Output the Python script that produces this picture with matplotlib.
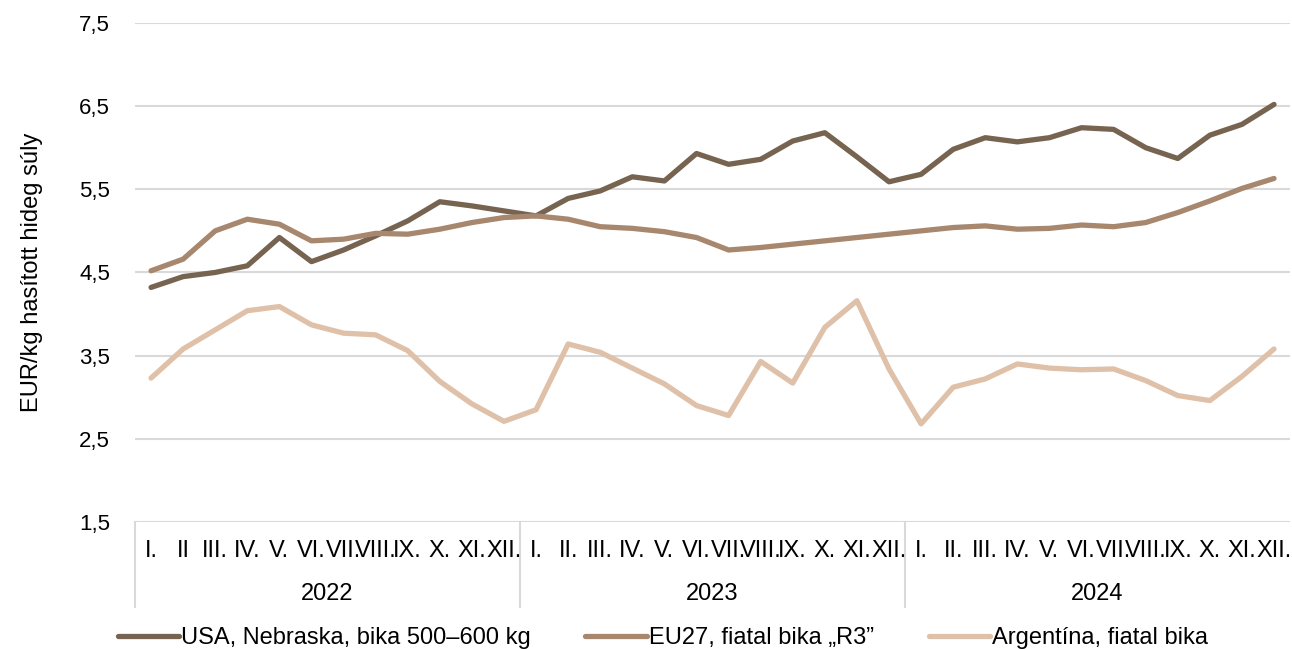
import numpy as np
import matplotlib.pyplot as plt
import matplotlib.transforms as mtransforms

plt.rcParams['font.family'] = ['Liberation Sans', 'DejaVu Sans']

# data
years = ["2022", "2023", "2024"]
months = ["I.", "II", "III.", "IV.", "V.", "VI.", "VII.", "VIII.", "IX.", "X.", "XI.", "XII."]
months_other = ["I.", "II.", "III.", "IV.", "V.", "VI.", "VII.", "VIII.", "IX.", "X.", "XI.", "XII."]

usa = [4.32, 4.45, 4.50, 4.58, 4.92, 4.63, 4.77, 4.94, 5.12, 5.35, 5.30, 5.24,
       5.18, 5.39, 5.48, 5.65, 5.60, 5.93, 5.80, 5.86, 6.08, 6.18, 5.89, 5.59,
       5.68, 5.98, 6.12, 6.07, 6.12, 6.24, 6.22, 6.00, 5.87, 6.15, 6.28, 6.52]
eu = [4.52, 4.66, 5.00, 5.14, 5.08, 4.88, 4.90, 4.97, 4.96, 5.02, 5.10, 5.16,
      5.18, 5.14, 5.05, 5.03, 4.99, 4.92, 4.77, 4.80, 4.84, 4.88, 4.92, 4.96,
      5.00, 5.04, 5.06, 5.02, 5.03, 5.07, 5.05, 5.10, 5.22, 5.36, 5.51, 5.63]
arg = [3.23, 3.58, 3.81, 4.04, 4.09, 3.87, 3.77, 3.75, 3.56, 3.19, 2.92, 2.71,
       2.85, 3.64, 3.54, 3.35, 3.16, 2.90, 2.78, 3.43, 3.17, 3.84, 4.16, 3.34,
       2.68, 3.12, 3.22, 3.40, 3.35, 3.33, 3.34, 3.20, 3.02, 2.96, 3.25, 3.58]

labels = ["USA, Nebraska, bika 500\u2013600 kg", "EU27, fiatal bika \u201eR3\u201d", "Argent\u00edna, fiatal bika"]
colors = ["#766350", "#a7876d", "#dfc0a8"]
y_ticks = [1.5, 2.5, 3.5, 4.5, 5.5, 6.5, 7.5]

fs = 17

fig = plt.figure(figsize=(12.92, 6.49), dpi=100)
ax = fig.add_axes([0.1045, 0.1957, 0.894, 0.769])

x = np.arange(len(usa))
for vals, lab, col in zip([usa, eu, arg], labels, colors):
    ax.plot(x, vals, color=col, linewidth=3.8, label=lab, solid_capstyle='round', solid_joinstyle='round')

ax.set_xlim(-0.5, len(usa) - 0.5)
ax.set_ylim(1.5, 7.5)
ax.set_yticks(y_ticks)
ax.set_yticklabels([("%.1f" % v).replace(".", ",") for v in y_ticks], fontsize=16)
ax.yaxis.grid(True, color="#d9d9d9", linewidth=1.5)
ax.set_axisbelow(True)
ax.tick_params(axis='y', length=0, pad=18)
ax.set_xticks([])
for s in ax.spines.values():
    s.set_visible(False)

ax.set_ylabel("EUR/kg hasított hideg súly", fontsize=fs, labelpad=26)

# category axis: months and years
trans = mtransforms.blended_transform_factory(ax.transData, ax.transAxes)
for yi, year in enumerate(years):
    mlist = months if yi == 0 else months_other
    for mi, m in enumerate(mlist):
        ax.text(yi * 12 + mi, -0.058, m, transform=trans, ha='center', va='center', fontsize=fs)
    ax.text(yi * 12 + 5.5, -0.145, year, transform=trans, ha='center', va='center', fontsize=fs)
for b in [-0.5, 11.5, 23.5]:
    ax.plot([b, b], [0, -0.17], transform=trans, color="#d9d9d9", linewidth=1.5, clip_on=False)

ax.legend(loc='center left', bbox_to_anchor=(-0.015, -0.232), ncol=3, frameon=False,
          fontsize=fs, handlelength=2.6, handletextpad=0.1, columnspacing=2.3,
          borderaxespad=0, borderpad=0)

plt.savefig("out.png", dpi=100)
